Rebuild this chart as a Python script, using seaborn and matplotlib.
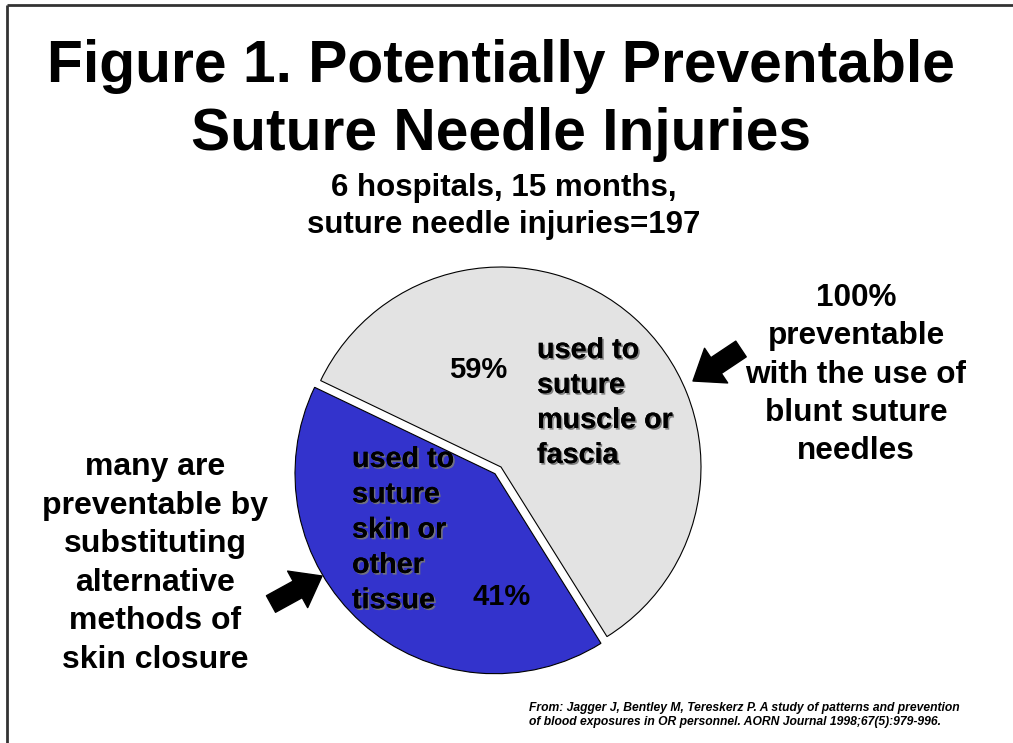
import matplotlib
matplotlib.use("Agg")
import matplotlib.pyplot as plt
import matplotlib.patheffects as pe
import seaborn as sns

# --- Data ---
slice_names = ["skin or other tissue", "muscle or fascia"]
slice_values = [41, 59]
slice_colors = ["#3333CC", "#E3E3E3"]
slice_pct_labels = ["41%", "59%"]

title_lines = ["Figure 1. Potentially Preventable", "Suture Needle Injuries"]
subtitle_lines = ["6 hospitals, 15 months,", "suture needle injuries=197"]
right_note = ["100%", "preventable", "with the use of", "blunt suture", "needles"]
left_note = ["many are", "preventable by", "substituting", "alternative",
             "methods of", "skin closure"]
muscle_label = ["used to", "suture", "muscle or", "fascia"]
skin_label = ["used to", "suture", "skin or", "other", "tissue"]
source_lines = ["From: Jagger J, Bentley M, Tereskerz P. A study of patterns and prevention",
                "of blood exposures in OR personnel. AORN Journal 1998;67(5):979-996."]

sns.set_theme(style="white")
plt.rcParams['font.family'] = ['Liberation Sans', 'DejaVu Sans']

W, H = 1013, 743
fig = plt.figure(figsize=(W / 100, H / 100), dpi=100)
ax = fig.add_axes([0, 0, 1, 1])


def draw_lines(lines, x, y_top, dy, **kw):
    # y given in image pixels from the top
    for i, line in enumerate(lines):
        ax.text(x, H - (y_top + i * dy), line, va="center", **kw)


# pie
wedges, _ = ax.pie(slice_values, colors=slice_colors, startangle=154.4,
                   counterclock=True, explode=[9, 0], center=(501, H - 467),
                   radius=200, wedgeprops=dict(edgecolor="black", linewidth=0.8))
ax.set_xlim(0, W)
ax.set_ylim(0, H)
ax.set_aspect("auto")
ax.axis("off")

# frame lines (top and left)
ax.plot([7, W], [H - 5, H - 5], color="#333333", lw=2, solid_capstyle="butt")
ax.plot([7, 7], [H - 5, 0], color="#333333", lw=2, solid_capstyle="butt")

bold = dict(fontweight="bold", color="black")
draw_lines(title_lines, 501, 67, 67, ha="center", fontsize=42.3, **bold)
draw_lines(subtitle_lines, 504, 188, 37, ha="center", fontsize=22.5, **bold)
draw_lines(right_note, 856, 298, 38.3, ha="center", fontsize=22.7, **bold)
draw_lines(left_note, 155, 467, 38.6, ha="center", fontsize=23, **bold)

shadow = [pe.withSimplePatchShadow(offset=(1.2, -1.2), shadow_rgbFace="#777777", alpha=0.9),
          pe.Normal()]
draw_lines(muscle_label, 537, 350, 35, ha="left", fontsize=20.7, path_effects=shadow, **bold)
draw_lines(skin_label, 352, 459, 35.3, ha="left", fontsize=20.7, path_effects=shadow, **bold)
ax.text(478, H - 370, slice_pct_labels[1], ha="center", va="center", fontsize=21, **bold)
ax.text(502, H - 597, slice_pct_labels[0], ha="center", va="center", fontsize=21, **bold)

# block arrows
arrow_style = "simple,head_length=1.0,head_width=1.5,tail_width=0.68"
ax.annotate("", xy=(693, H - 381), xytext=(741, H - 349),
            arrowprops=dict(arrowstyle=arrow_style, fc="black", ec="black",
                            mutation_scale=20, shrinkA=0, shrinkB=0))
ax.annotate("", xy=(322, H - 576), xytext=(271, H - 604),
            arrowprops=dict(arrowstyle=arrow_style, fc="black", ec="black",
                            mutation_scale=20, shrinkA=0, shrinkB=0))

draw_lines(source_lines, 529, 708, 14.5, ha="left", fontsize=8.7,
           fontweight="bold", fontstyle="italic", color="black")

fig.savefig("out.png", dpi=100)
